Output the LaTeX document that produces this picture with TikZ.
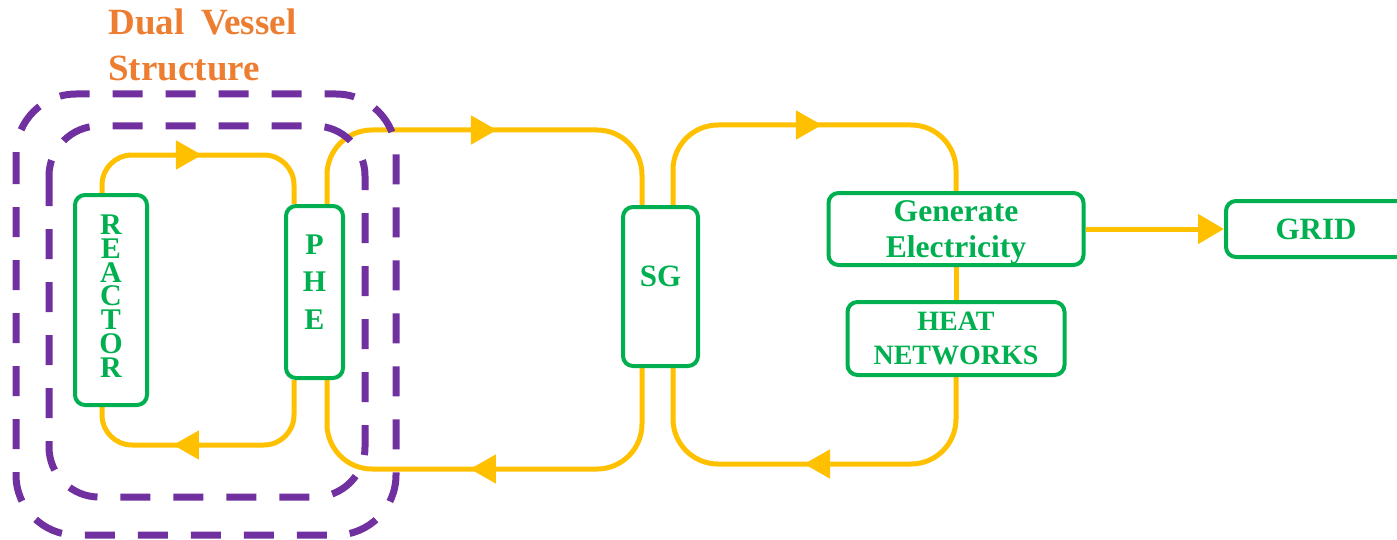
\documentclass[tikz,border=0pt]{standalone}
\usepackage{fontspec}
\setmainfont{Liberation Serif}[BoldFont={Liberation Serif Bold}]
\usetikzlibrary{arrows.meta,decorations.markings,backgrounds}
\definecolor{vesselpurple}{HTML}{7030A0}
\definecolor{loopyellow}{HTML}{FFC000}
\definecolor{boxgreen}{HTML}{00B050}
\definecolor{titleorange}{HTML}{ED7D31}
\newcommand{\boldsize}[2]{\fontsize{#1}{#2}\selectfont\rmfamily\bfseries}

\begin{document}
\begin{tikzpicture}[x=0.5pt, y=-0.5pt]
  \tikzset{
    unit/.style={draw=boxgreen, line width=2pt, rounded corners=5pt, fill=white,
      text=boxgreen, align=center, inner sep=0pt},
    pipe/.style={draw=loopyellow, line width=2.5pt},
    flow/.style={postaction={decorate}, decoration={markings,
      mark=at position #1 with {\arrow[loopyellow]{Triangle[length=13pt,width=14pt]}}}},
    vessel/.style={draw=vesselpurple, line width=3.5pt, dash pattern=on 15pt off 11.5pt}
  }
  \useasboundingbox (0,0) rectangle (1397,540);

  \node[anchor=north west, inner sep=0pt, align=left, text=titleorange,
    font=\boldsize{18.5}{23}] (title) at (108,8) {Dual\hspace{0.45em}Vessel\\Structure};

  % components
  \node[unit, minimum width=36pt, minimum height=105pt, text depth=4pt,
    font=\boldsize{15}{11.9}] (reactor) at (111,300) {R\\E\\A\\C\\T\\O\\R};
  \node[unit, minimum width=28.5pt, minimum height=86pt, text depth=10pt,
    font=\boldsize{15}{18.9}] (phe) at (314.5,292) {P\\H\\E};
  \node[unit, minimum width=37.5pt, minimum height=79.5pt, text depth=10pt,
    font=\boldsize{15.5}{18}] (sg) at (660.5,286.5) {SG};
  \node[unit, minimum width=127.5pt, minimum height=36pt, text depth=0pt,
    font=\boldsize{15.8}{18}] (gen) at (956,229) {Generate\\Electricity};
  \node[unit, minimum width=108.5pt, minimum height=36.5pt,
    font=\boldsize{14}{17}] (heat) at (956,338.5) {HEAT\\NETWORKS};
  \node[unit, minimum width=90pt, minimum height=28pt,
    font=\boldsize{15.5}{18}] (grid) at (1316,229) {GRID};

  \draw[pipe, -{Triangle[length=13pt,width=14.5pt]}] (gen.east) -- (grid.west);

  \begin{scope}[on background layer]
    % primary loop
    \draw[pipe, flow=0.494, rounded corners=15pt]
      ([xshift=-4.5pt]reactor.north) -- ++(0,-38) -| ([xshift=-10.25pt]phe.north);
    \draw[pipe, flow=0.643, rounded corners=15pt]
      ([xshift=-10.25pt]phe.south) -- ++(0,65) -| ([xshift=-4.5pt]reactor.south);
    % intermediate loop
    \draw[pipe, flow=0.528, rounded corners=22.5pt]
      ([xshift=6.25pt]phe.north) -- ++(0,-74) -| ([xshift=-9.25pt]sg.north);
    \draw[pipe, flow=0.544, rounded corners=22.5pt]
      ([xshift=-9.25pt]sg.south) -- ++(0,101) -| ([xshift=6.25pt]phe.south);
    % secondary loop
    \draw[pipe, flow=0.537, rounded corners=22.5pt]
      ([xshift=6.25pt]sg.north) -- ++(0,-80) -| (gen.north);
    \draw[pipe] (gen.south) -- (heat.north);
    \draw[pipe, flow=0.514, rounded corners=22.5pt]
      (heat.south) -- ++(0,87) -| ([xshift=6.25pt]sg.south);

    % vessels
    \draw[vessel, rounded corners=30pt] (16,94) rectangle (396,535);
    \draw[vessel, rounded corners=25pt] (49,126) rectangle (365,497);
  \end{scope}
\end{tikzpicture}
\end{document}
